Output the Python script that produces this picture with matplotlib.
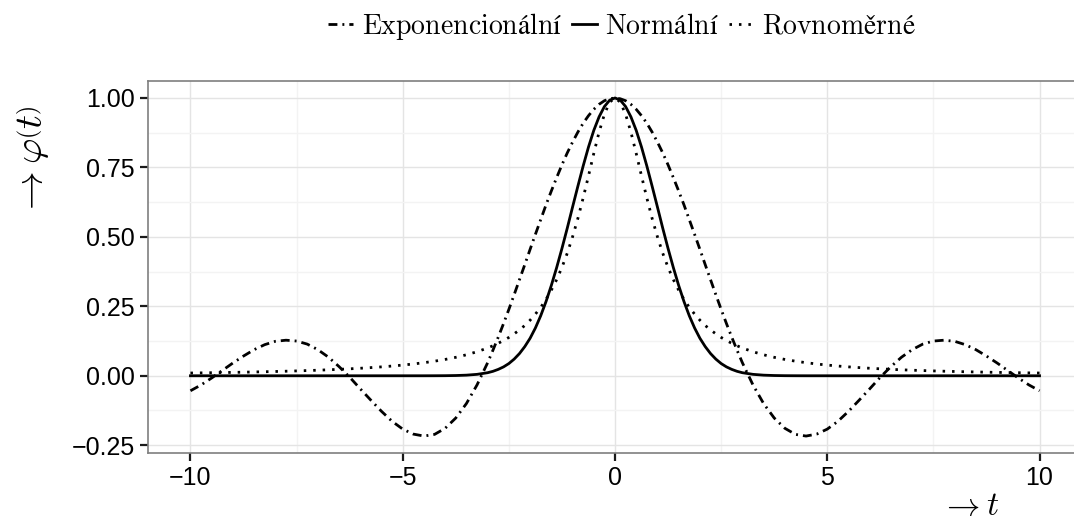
import numpy as np
import matplotlib.pyplot as plt
from matplotlib.ticker import MultipleLocator

plt.rcParams['mathtext.fontset'] = 'cm'

# t grid: step 0.25 in the tails, 0.125 between -3 and 3
t = [-10.0, -9.75, -9.5, -9.25, -9.0, -8.75, -8.5, -8.25, -8.0, -7.75, -7.5, -7.25,
     -7.0, -6.75, -6.5, -6.25, -6.0, -5.75, -5.5, -5.25, -5.0, -4.75, -4.5, -4.25,
     -4.0, -3.75, -3.5, -3.25,
     -3.0, -2.875, -2.75, -2.625, -2.5, -2.375, -2.25, -2.125, -2.0, -1.875, -1.75,
     -1.625, -1.5, -1.375, -1.25, -1.125, -1.0, -0.875, -0.75, -0.625, -0.5, -0.375,
     -0.25, -0.125, 0.0, 0.125, 0.25, 0.375, 0.5, 0.625, 0.75, 0.875, 1.0, 1.125,
     1.25, 1.375, 1.5, 1.625, 1.75, 1.875, 2.0, 2.125, 2.25, 2.375, 2.5, 2.625, 2.75,
     2.875, 3.0,
     3.25, 3.5, 3.75, 4.0, 4.25, 4.5, 4.75, 5.0, 5.25, 5.5, 5.75, 6.0, 6.25, 6.5,
     6.75, 7.0, 7.25, 7.5, 7.75, 8.0, 8.25, 8.5, 8.75, 9.0, 9.25, 9.5, 9.75, 10.0]

# dash-dot curve ("Exponencionální")
phi_exp = [-0.054, -0.033, -0.008, 0.019, 0.046, 0.071, 0.094, 0.112, 0.124, 0.128,
           0.125, 0.114, 0.094, 0.067, 0.033, -0.005, -0.047, -0.088, -0.128, -0.164,
           -0.192, -0.210, -0.217, -0.211, -0.189, -0.152, -0.100, -0.033,
           0.047, 0.092, 0.139, 0.188, 0.239, 0.292, 0.346, 0.400, 0.455, 0.509, 0.562,
           0.615, 0.665, 0.713, 0.759, 0.802, 0.841, 0.877, 0.909, 0.936, 0.959, 0.977,
           0.990, 0.997, 1.000, 0.997, 0.990, 0.977, 0.959, 0.936, 0.909, 0.877, 0.841,
           0.802, 0.759, 0.713, 0.665, 0.615, 0.562, 0.509, 0.455, 0.400, 0.346, 0.292,
           0.239, 0.188, 0.139, 0.092, 0.047,
           -0.033, -0.100, -0.152, -0.189, -0.211, -0.217, -0.210, -0.192, -0.164,
           -0.128, -0.088, -0.047, -0.005, 0.033, 0.067, 0.094, 0.114, 0.125, 0.128,
           0.124, 0.112, 0.094, 0.071, 0.046, 0.019, -0.008, -0.033, -0.054]

# solid curve ("Normální")
phi_norm = [0.0, 0.0, 0.0, 0.0, 0.0, 0.0, 0.0, 0.0, 0.0, 0.0, 0.0, 0.0, 0.0, 0.0,
            0.0, 0.0, 0.0, 0.0, 0.0, 0.0, 0.0, 0.0, 0.0, 0.0001, 0.0003, 0.0009,
            0.0022, 0.0051,
            0.011, 0.016, 0.023, 0.032, 0.044, 0.060, 0.080, 0.105, 0.135, 0.172,
            0.216, 0.267, 0.325, 0.389, 0.458, 0.531, 0.607, 0.682, 0.755, 0.823,
            0.883, 0.932, 0.969, 0.992, 1.000, 0.992, 0.969, 0.932, 0.883, 0.823,
            0.755, 0.682, 0.607, 0.531, 0.458, 0.389, 0.325, 0.267, 0.216, 0.172,
            0.135, 0.105, 0.080, 0.060, 0.044, 0.032, 0.023, 0.016, 0.011,
            0.0051, 0.0022, 0.0009, 0.0003, 0.0001, 0.0, 0.0, 0.0, 0.0, 0.0, 0.0,
            0.0, 0.0, 0.0, 0.0, 0.0, 0.0, 0.0, 0.0, 0.0, 0.0, 0.0, 0.0, 0.0, 0.0,
            0.0, 0.0, 0.0]

# dotted curve ("Rovnoměrné")
phi_unif = [0.0099, 0.0104, 0.0110, 0.0116, 0.0122, 0.0129, 0.0137, 0.0145, 0.0154,
            0.0164, 0.0175, 0.0187, 0.0200, 0.0215, 0.0231, 0.0250, 0.0270, 0.0294,
            0.0320, 0.0350, 0.0385, 0.0424, 0.0471, 0.0525, 0.0588, 0.0664, 0.0755,
            0.0865,
            0.100, 0.108, 0.117, 0.127, 0.138, 0.151, 0.165, 0.181, 0.200, 0.222,
            0.246, 0.275, 0.308, 0.346, 0.390, 0.441, 0.500, 0.566, 0.640, 0.719,
            0.800, 0.877, 0.941, 0.985, 1.000, 0.985, 0.941, 0.877, 0.800, 0.719,
            0.640, 0.566, 0.500, 0.441, 0.390, 0.346, 0.308, 0.275, 0.246, 0.222,
            0.200, 0.181, 0.165, 0.151, 0.138, 0.127, 0.117, 0.108, 0.100,
            0.0865, 0.0755, 0.0664, 0.0588, 0.0525, 0.0471, 0.0424, 0.0385, 0.0350,
            0.0320, 0.0294, 0.0270, 0.0250, 0.0231, 0.0215, 0.0200, 0.0187, 0.0175,
            0.0164, 0.0154, 0.0145, 0.0137, 0.0129, 0.0122, 0.0116, 0.0110, 0.0104,
            0.0099]

labels = [r'$\mathrm{Exponencionální}$',
          r'$\mathrm{Normální}$',
          r'$\mathrm{Rovnoměrné}$']

x_ticks = [-10, -5, 0, 5, 10]
x_ticklabels = ['\u221210', '\u22125', '0', '5', '10']
y_ticks = [-0.25, 0.0, 0.25, 0.50, 0.75, 1.00]
y_ticklabels = ['\u22120.25', '0.00', '0.25', '0.50', '0.75', '1.00']

fig = plt.figure(figsize=(10.74, 5.21), dpi=100, facecolor='white')
ax = fig.add_axes([148 / 1074, 1 - 453 / 521, (1082 - 148) / 1074, (453 - 81) / 521])

lw = 2.0
ax.plot(t, phi_exp, color='black', lw=lw, linestyle=(0, (3.2, 1.8, 0.7, 1.8)),
        label=labels[0])
ax.plot(t, phi_norm, color='black', lw=lw, label=labels[1])
ax.plot(t, phi_unif, color='black', lw=lw, linestyle=(0, (0.9, 2.5)),
        label=labels[2])

ax.set_xlim(-11, 11)
ax.set_ylim(-0.278, 1.061)
ax.set_xticks(x_ticks)
ax.set_xticklabels(x_ticklabels)
ax.set_yticks(y_ticks)
ax.set_yticklabels(y_ticklabels)
ax.xaxis.set_minor_locator(MultipleLocator(2.5))
ax.yaxis.set_minor_locator(MultipleLocator(0.125))

ax.grid(True, which='major', color='#e4e4e4', lw=1.0)
ax.grid(True, which='minor', color='#f3f3f3', lw=1.0)
ax.set_axisbelow(True)

for s in ax.spines.values():
    s.set_color('#7f7f7f')
    s.set_linewidth(1.2)

ax.tick_params(which='major', direction='out', length=5.5, width=1.6, color='#1a1a1a',
               labelsize=18, labelcolor='black', pad=4)
ax.tick_params(which='minor', length=0)
for lab in ax.get_xticklabels() + ax.get_yticklabels():
    lab.set_family(['Liberation Sans', 'DejaVu Sans'])

fig.text(32 / 1074, 1 - 106 / 521, r'$\rightarrow \varphi\left(t\right)$',
         rotation=90, ha='center', va='top', fontsize=28)
fig.text(999 / 1074, 1 - 505 / 521, r'$\rightarrow t$', ha='right', va='center',
         fontsize=24)

fig.legend(loc='center', bbox_to_anchor=(622 / 1074, 1 - 26 / 521), ncol=3,
           frameon=False, handlelength=0.9, handletextpad=0.3, columnspacing=0.35,
           fontsize=20)

fig.savefig('out.png', dpi=100, facecolor='white')
